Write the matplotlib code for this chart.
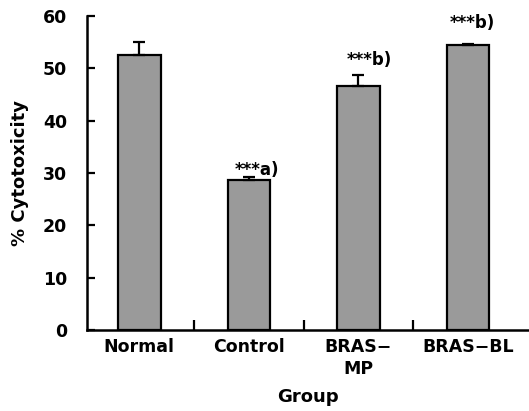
import matplotlib.pyplot as plt
from matplotlib.ticker import FixedLocator

groups = ['Normal', 'Control', 'BRAS\u2212\nMP', 'BRAS\u2212BL']
cytotoxicity = [52.6, 28.7, 46.7, 54.4]
sem = [2.5, 0.5, 2.1, 0.2]
marks = ['', '***a)', '***b)', '***b)']
mark_y = [0, 30.6, 51.6, 58.7]
mark_dx = [0, -0.13, -0.105, -0.165]

fig = plt.figure(figsize=(5.29, 4.11), dpi=100)
ax = fig.add_axes([0.164, 0.197, 0.836, 0.764])

x = list(range(len(groups)))
ax.bar(x, cytotoxicity, width=0.39, color='#9a9a9a', edgecolor='black', linewidth=1.6,
       yerr=[[0] * len(sem), sem], capsize=4.5,
       error_kw={'elinewidth': 1.6, 'capthick': 1.6, 'ecolor': 'black'})

for i in x:
    if marks[i]:
        ax.text(i + mark_dx[i], mark_y[i], marks[i], ha='left', va='center',
                fontsize=12, fontweight='bold')

ax.set_xlim(-0.48, 3.557)
ax.set_ylim(0, 60)
ax.set_yticks(range(0, 61, 10))
ax.set_xticks(x)
ax.set_xticklabels(groups, fontsize=12.5, fontweight='bold', linespacing=1.25)
ax.xaxis.set_minor_locator(FixedLocator([0.5, 1.5, 2.5]))
ax.tick_params(axis='x', which='major', length=0, pad=6)
ax.tick_params(axis='x', which='minor', direction='in', length=7, width=1.6)
ax.tick_params(axis='y', direction='in', length=6, width=1.6, pad=14, labelsize=12.5)
for lab in ax.get_yticklabels():
    lab.set_fontweight('bold')

for side in ['top', 'right']:
    ax.spines[side].set_visible(False)
for side in ['left', 'bottom']:
    ax.spines[side].set_linewidth(1.8)

ax.set_ylabel('% Cytotoxicity', fontsize=13, fontweight='bold', labelpad=10)
ax.set_xlabel('Group', fontsize=13, fontweight='bold', labelpad=7)

fig.savefig('out.png', dpi=100)
